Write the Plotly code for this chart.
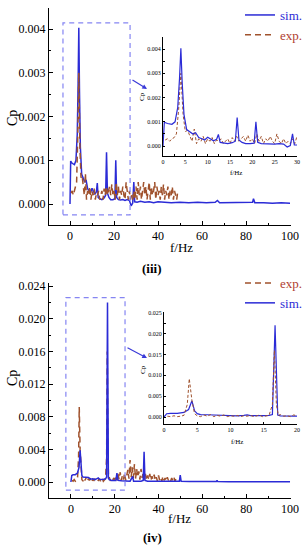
import plotly.graph_objects as go

# ---------------- data: panel (iii) ----------------
sim3_f = [0, 0.3, 1.0, 2.0, 2.7, 3.3, 3.7, 4.0, 4.3, 4.7, 5.3, 6.0, 6.7, 7.3, 8.0, 8.7, 9.3, 10.0,
          10.7, 11.3, 12.0, 12.4, 12.8, 13.5, 14.5, 15.5, 16.2, 16.6, 17.0, 17.7, 18.5, 19.5, 20.4,
          20.8, 21.2, 22, 23, 24, 25, 26, 27, 27.8, 28.5, 29.0, 29.4, 30.5, 32, 34, 36, 38, 40,
          43, 46, 50, 54, 58, 62, 66, 67, 68, 72, 76, 80, 83, 83.4, 84, 88, 92, 96, 100]
sim3_cp = [0, 0.00098, 0.00093, 0.00090, 0.00100, 0.0016, 0.0028, 0.00403, 0.0026, 0.0013, 0.00068,
           0.00060, 0.00050, 0.00055, 0.00035, 0.00030, 0.00025, 0.00036, 0.00030, 0.00022, 0.00028,
           0.00048, 0.00015, 0.00012, 0.00010, 0.00014, 0.00020, 0.00118, 0.00025, 0.00015, 0.00010,
           0.00010, 0.00012, 0.00100, 0.00015, 0.00010, 0.00009, 0.00010, 0.00008, 0.00010, 0.00008,
           -0.00004, 0.00002, 0.00050, 0.00005, 0.00004, 0.00006, 0.00004, 0.00005, 0.00003, 0.00005,
           0.00004, 0.00003, 0.00004, 0.00003, 0.00004, 0.00003, 0.00004, 0.00008, 0.00003, 0.00003,
           0.00004, 0.00003, 0.00004, 0.00012, 0.00003, 0.00003, 0.00002, 0.00003, 0.00002]

exp3_f = [0.5, 1.0, 1.5, 2.0, 2.5, 3.0, 3.5, 4.0, 4.5, 5.0, 5.5, 6.0, 6.5, 7.0, 7.5, 8.0, 8.5, 9.0,
          9.5, 10.0, 10.5, 11.0, 11.5, 12.0, 12.5, 13.0, 13.5, 14.0, 14.5, 15.0, 15.5, 16.0, 16.5,
          17.0, 17.5, 18.0, 18.5, 19.0, 19.5, 20.0, 20.5, 21.0, 21.5, 22.0, 22.5, 23.0, 23.5, 24.0,
          24.5, 25.0, 25.5, 26.0, 26.5, 27.0, 27.5, 28.0, 28.5, 29.0, 29.5, 30.0, 30.5, 31.0, 31.5,
          32.0, 32.5, 33.0, 33.5, 34.0, 34.5, 35.0, 35.5, 36.0, 36.5, 37.0, 37.5, 38.0, 38.5, 39.0,
          39.5, 40.0, 40.5, 41.0, 41.5, 42.0, 42.5, 43.0, 43.5, 44.0, 44.5, 45.0, 45.5, 46.0, 46.5,
          47.0, 47.5, 48.0, 48.5, 49.0]
exp3_cp = [0.00025, 0.00030, 0.00020, 0.00030, 0.00035, 0.00050, 0.00150, 0.00300, 0.00130, 0.00060,
           0.00065, 0.00040, 0.00020, 0.00070, 0.00010, 0.00030, 0.00020, 0.00040, 0.00010, 0.00030,
           0.00020, 0.00035, 0.00010, 0.00025, 0.00020, 0.00030, 0.00010, 0.00020, 0.00030, 0.00010,
           0.00035, 0.00020, 0.00040, 0.00020, 0.00030, 0.00040, 0.00020, 0.00045, 0.00020, 0.00030,
           0.00010, 0.00050, 0.00020, 0.00040, 0.00010, 0.00030, 0.00020, 0.00040, 0.00020, 0.00010,
           0.00050, 0.00020, 0.00010, 0.00030, 0.00010, 0.00020, 0.00010, 0.00030, 0.00010, 0.00040,
           0.00010, 0.00050, 0.00020, 0.00040, 0.00010, 0.00030, 0.00050, 0.00020, 0.00040, 0.00010,
           0.00030, 0.00050, 0.00010, 0.00040, 0.00020, 0.00030, 0.00050, 0.00010, 0.00040, 0.00020,
           0.00030, 0.00010, 0.00040, 0.00020, 0.00045, 0.00010, 0.00030, 0.00020, 0.00040, 0.00010,
           0.00030, 0.00020, 0.00040, 0.00010, 0.00030, 0.00020, 0.00010, 0.00030]

# ---------------- data: panel (iv) ----------------
sim4_f = [0, 0.4, 1.0, 2.0, 3.0, 3.7, 4.2, 4.6, 5.0, 5.5, 6.5, 7.5, 8.0, 9.0, 10.0, 11.0, 12.0, 12.5,
          13.0, 14.0, 15.0, 15.8, 16.3, 16.7, 17.1, 17.5, 18.5, 19.5, 20.5, 21.0, 21.5, 23, 25, 27,
          28.2, 28.6, 30, 32, 33.0, 33.4, 33.8, 35, 38, 42, 46, 49.5, 49.9, 50.3, 54, 58, 62, 66.4,
          66.7, 67.0, 72, 80, 90, 100]
sim4_cp = [0, 0.0008, 0.0009, 0.0009, 0.0011, 0.0018, 0.0039, 0.0015, 0.0008, 0.0006, 0.00055,
           0.0005, 0.00055, 0.00035, 0.0004, 0.0003, 0.0004, 0.0005, 0.00035, 0.0003, 0.00035, 0.0004,
           0.0006, 0.0220, 0.0005, 0.0003, 0.0002, 0.0002, 0.0002, 0.0011, 0.0002, 0.00015, 0.0001,
           0.0001, 0.0007, 0.0001, 0.0001, 0.0001, 0.0002, 0.0037, 0.0002, 0.0001, 0.00008, 0.00006,
           0.00006, 0.0001, 0.00085, 0.0001, 0.00005, 0.00005, 0.00005, 0.00005, 0.0002, 0.00005,
           0.00004, 0.00004, 0.00003, 0.00003]

exp4_f = [0.5, 1.0, 1.5, 2.0, 2.5, 3.0, 3.5, 3.8, 4.2, 4.6, 5.0, 5.5, 6.0, 6.5, 7.0, 7.5, 8.0, 8.5,
          9.0, 9.5, 10.0, 10.5, 11.0, 11.5, 12.0, 12.5, 13.0, 13.5, 14.0, 14.3, 14.8, 15.3, 15.8,
          16.3, 16.6, 16.9, 17.2, 17.5, 18.0, 18.5, 19.0, 19.5, 20.0, 20.5, 21.0, 21.5, 22.0, 22.5,
          23.0, 23.5, 24.0, 24.5, 25.0, 25.5, 26.0, 26.5, 27.0, 27.5, 28.0, 28.5, 29.0, 29.5, 30.0,
          30.5, 31.0, 31.5, 32.0, 32.5, 33.0, 33.5, 34.0, 34.5, 35.0, 35.5, 36.0, 36.5, 37.0, 37.5,
          38.0, 38.5, 39.0, 39.5, 40.0, 40.5, 41.0, 41.5, 42.0, 42.5, 43.0, 43.5, 44.0, 44.5, 45.0,
          45.5, 46.0, 46.5, 47.0, 47.5, 48.0]
exp4_cp = [0.0002, 0.0001, 0.0003, 0.0001, 0.0002, 0.0004, 0.0030, 0.0092, 0.0040, 0.0008, 0.0003,
           0.0001, 0.0005, 0.0002, 0.0006, 0.0001, 0.0004, 0.0002, 0.0005, 0.0001, 0.0003, 0.0002,
           0.0004, 0.0001, 0.0003, 0.0002, 0.0004, 0.0001, 0.0003, 0.0005, 0.0001, 0.0002, 0.0004,
           0.0030, 0.0160, 0.0030, 0.0004, 0.0006, 0.0002, 0.0003, 0.0001, 0.0005, 0.0003, 0.0008,
           0.0002, 0.0010, 0.0003, 0.0012, 0.0002, 0.0008, 0.0003, 0.0011, 0.0002, 0.0009, 0.0015,
           0.0004, 0.0027, 0.0006, 0.0018, 0.0005, 0.0022, 0.0004, 0.0016, 0.0006, 0.0013, 0.0003,
           0.0016, 0.0005, 0.0012, 0.0003, 0.0010, 0.0002, 0.0008, 0.0003, 0.0010, 0.0002, 0.0007,
           0.0003, 0.0009, 0.0002, 0.0006, 0.0001, 0.0008, 0.0002, 0.0005, 0.0001, 0.0007, 0.0002,
           0.0005, 0.0001, 0.0006, 0.0002, 0.0004, 0.0001, 0.0005, 0.0002, 0.0006, 0.0001, 0.0004]

# zoom regions (data coords) highlighted by dashed boxes
ZOOM3 = dict(x0=-3.2, x1=27.3, y0=-0.00025, y1=0.00414)
ZOOM4 = dict(x0=-2.3, x1=24.7, y0=-0.0010, y1=0.0226)

SIM_C = "#2b2bd6"
EXP_C = "#a0522d"
BOX_C = "#8585f2"
FONT = "Liberation Serif"

W, H = 306, 550
def px(x): return x / W
def py(y): return 1 - y / H

fig = go.Figure()

# panel (iii)
fig.add_trace(go.Scatter(x=sim3_f, y=sim3_cp, mode="lines", xaxis="x", yaxis="y",
                         name="<span style='color:#2b2bd6'>sim.</span>", legend="legend",
                         line=dict(color=SIM_C, width=1.5)))
fig.add_trace(go.Scatter(x=exp3_f, y=exp3_cp, mode="lines", xaxis="x", yaxis="y",
                         name="<span style='color:#b0402f'>exp.</span>", legend="legend",
                         line=dict(color=EXP_C, width=1.5, dash="6px,4px")))
fig.add_trace(go.Scatter(x=exp3_f, y=exp3_cp, mode="lines", xaxis="x2", yaxis="y2", showlegend=False,
                         line=dict(color=EXP_C, width=1, dash="3px,2px")))
fig.add_trace(go.Scatter(x=sim3_f, y=sim3_cp, mode="lines", xaxis="x2", yaxis="y2", showlegend=False,
                         line=dict(color=SIM_C, width=1.2)))

# panel (iv)
fig.add_trace(go.Scatter(x=exp4_f, y=exp4_cp, mode="lines", xaxis="x3", yaxis="y3",
                         name="<span style='color:#b0402f'>exp.</span>", legend="legend2",
                         line=dict(color=EXP_C, width=1.5, dash="6px,4px")))
fig.add_trace(go.Scatter(x=sim4_f, y=sim4_cp, mode="lines", xaxis="x3", yaxis="y3",
                         name="<span style='color:#2b2bd6'>sim.</span>", legend="legend2",
                         line=dict(color=SIM_C, width=1.5)))
fig.add_trace(go.Scatter(x=sim4_f, y=sim4_cp, mode="lines", xaxis="x4", yaxis="y4", showlegend=False,
                         line=dict(color=SIM_C, width=1.2)))
fig.add_trace(go.Scatter(x=exp4_f, y=exp4_cp, mode="lines", xaxis="x4", yaxis="y4", showlegend=False,
                         line=dict(color=EXP_C, width=1, dash="3px,2px")))

def ax(domain, rng, dtick, minor_dtick, size, ticklen, anchor, fmt=None):
    d = dict(domain=domain, range=rng, dtick=dtick, tick0=0, showgrid=False, zeroline=False,
             showline=True, linecolor="black", linewidth=1, ticks="inside", ticklen=ticklen,
             tickcolor="black", tickwidth=1, anchor=anchor,
             tickfont=dict(family=FONT, size=size, color="black"),
             minor=dict(dtick=minor_dtick, tick0=0, ticks="inside", ticklen=max(2, ticklen - 2),
                        tickcolor="black", showgrid=False))
    if fmt:
        d["tickformat"] = fmt
    return d

fig.update_layout(
    width=W, height=H, margin=dict(l=0, r=0, t=0, b=0, autoexpand=False),
    paper_bgcolor="white", plot_bgcolor="rgba(0,0,0,0)",
    xaxis=ax([px(49), px(291)], [-9.55, 100.45], 20, 10, 12, 4, "y"),
    yaxis=ax([py(225), py(8)], [-0.00048, 0.00448], 0.001, 0.0005, 12, 4, "x", ".3f"),
    xaxis2=ax([px(163), px(297)], [0, 30], 5, 2.5, 6, 2, "y2"),
    yaxis2=ax([py(156), py(37)], [-0.00041, 0.0045], 0.001, 0.0005, 6, 2, "x2", ".3f"),
    xaxis3=ax([px(49), px(291)], [-10.0, 100.45], 20, 10, 12, 4, "y3"),
    yaxis3=ax([py(498), py(283)], [-0.00196, 0.0244], 0.004, 0.002, 12, 4, "x3", ".3f"),
    xaxis4=ax([px(164), px(297)], [0, 20], 5, 2.5, 6, 2, "y4"),
    yaxis4=ax([py(424), py(312)], [-0.00167, 0.0252], 0.005, 0.0025, 6, 2, "x4", ".3f"),
    legend=dict(x=px(240), y=py(0), xanchor="left", yanchor="top", bgcolor="rgba(0,0,0,0)",
                font=dict(family=FONT, size=13), tracegroupgap=0),
    legend2=dict(x=px(240), y=py(268), xanchor="left", yanchor="top", bgcolor="rgba(0,0,0,0)",
                 font=dict(family=FONT, size=13), tracegroupgap=0),
)

# dashed zoom boxes
fig.add_shape(type="rect", xref="x", yref="y", **ZOOM3,
              line=dict(color=BOX_C, width=1.2, dash="5px,4px"))
fig.add_shape(type="rect", xref="x3", yref="y3", **ZOOM4,
              line=dict(color=BOX_C, width=1.2, dash="5px,4px"))

# arrows pointing to the insets (tail offset in pixels)
fig.add_annotation(x=px(147), y=py(89), xref="paper", yref="paper", ax=-16, ay=-10,
                   showarrow=True, arrowhead=2, arrowsize=0.8,
                   arrowwidth=1.2, arrowcolor="#3a3ad8", text="")
fig.add_annotation(x=px(147), y=py(358), xref="paper", yref="paper", ax=-21, ay=-11,
                   showarrow=True, arrowhead=2, arrowsize=0.8,
                   arrowwidth=1.2, arrowcolor="#3a3ad8", text="")

def label(x, y, text, size, angle=0, bold=False):
    fig.add_annotation(x=px(x), y=py(y), xref="paper", yref="paper", text=f"<b>{text}</b>" if bold else text,
                       showarrow=False, textangle=angle, xanchor="center", yanchor="middle",
                       font=dict(family=FONT, size=size, color="black"))

# axis titles
label(12, 118, "Cp", 14, -90)
label(181, 247, "f/Hz", 13)
label(142, 97, "Cp", 7, -90)
label(236, 173, "f/Hz", 7)
label(152, 268, "(iii)", 13, bold=True)

label(12, 378, "Cp", 14, -90)
label(179, 518, "f/Hz", 13)
label(143, 370, "Cp", 7, -90)
label(237, 442, "f/Hz", 7)
label(152, 537, "(iv)", 13, bold=True)

fig.write_html("out.html", config={"displayModeBar": False},
               post_script="document.body.style.margin='0';document.body.style.overflow='hidden';"
                           "document.documentElement.style.overflow='hidden';")
